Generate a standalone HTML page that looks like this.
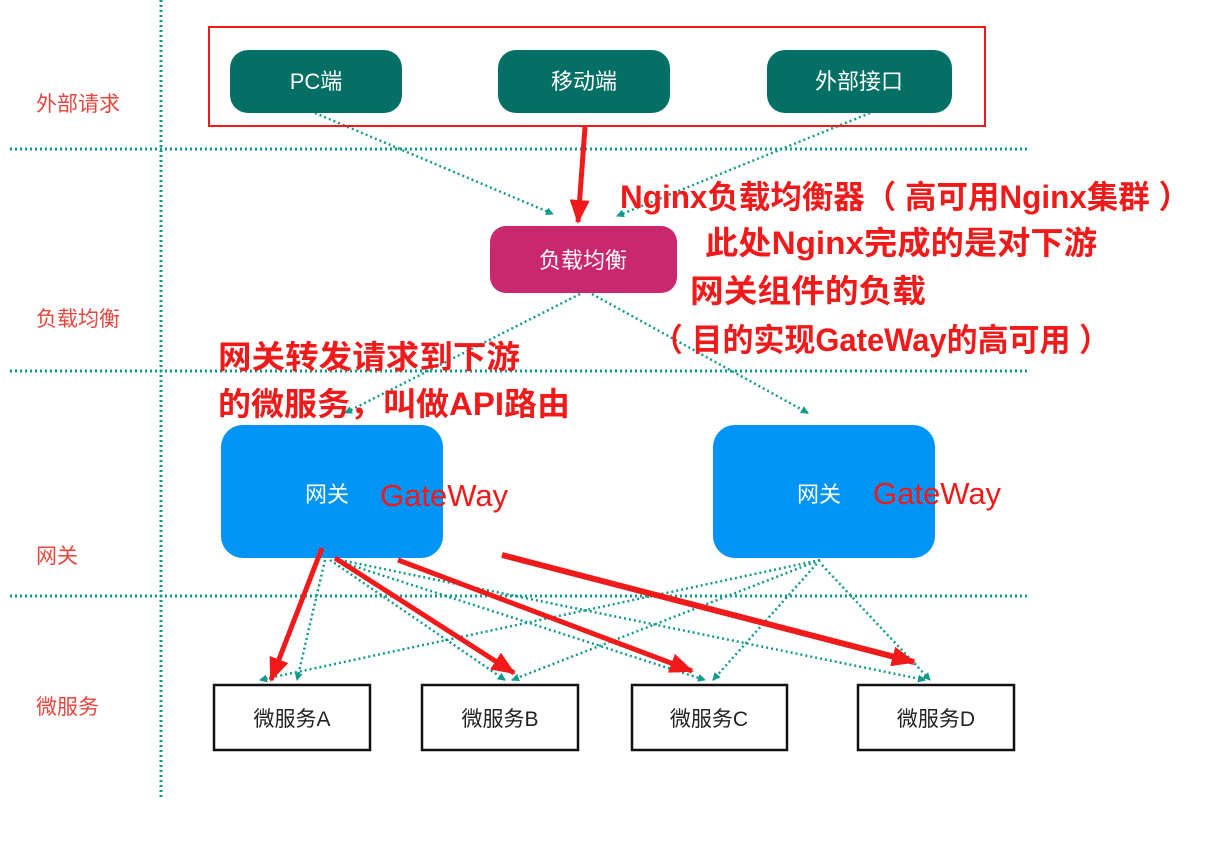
<!DOCTYPE html>
<html><head><meta charset="utf-8"><style>
html,body{margin:0;padding:0;background:#fff;}
svg{display:block;}
text{font-family:"Liberation Sans","Noto Sans CJK SC",sans-serif;}
</style></head><body>
<svg width="1222" height="864" viewBox="0 0 1222 864" xmlns="http://www.w3.org/2000/svg">
<defs>
<marker id="t" markerWidth="8" markerHeight="8" refX="7" refY="4" orient="auto" markerUnits="userSpaceOnUse" viewBox="0 0 8 8"><path d="M0,0 L8,4 L0,8 z" fill="#129a8c"/></marker>
<marker id="r" markerWidth="24" markerHeight="20" refX="22" refY="10" orient="auto" markerUnits="userSpaceOnUse" viewBox="0 0 24 20"><path d="M0,0 L24,10 L0,20 z" fill="#f11a1a"/></marker>
</defs>
<g stroke="#129a8c" stroke-width="3" stroke-dasharray="2 3" fill="none">
<line x1="161" y1="0" x2="161" y2="798"/>
<line x1="10" y1="149" x2="1028" y2="149"/>
<line x1="10" y1="371" x2="1028" y2="371"/>
<line x1="10" y1="596" x2="1028" y2="596"/>
</g>
<g stroke="#129a8c" stroke-width="2.5" stroke-dasharray="2 3" fill="none" marker-end="url(#t)">
<line x1="315" y1="113" x2="553" y2="214"/>
<line x1="870" y1="113" x2="617" y2="216"/>
<line x1="580" y1="294" x2="345" y2="413"/>
<line x1="592" y1="294" x2="808" y2="413"/>
<line x1="325" y1="560" x2="297" y2="680"/>
<line x1="330" y1="560" x2="505" y2="680"/>
<line x1="335" y1="560" x2="705" y2="680"/>
<line x1="340" y1="560" x2="925" y2="680"/>
<line x1="820" y1="560" x2="260" y2="680"/>
<line x1="820" y1="560" x2="512" y2="680"/>
<line x1="820" y1="560" x2="713" y2="680"/>
<line x1="822" y1="565" x2="930" y2="680"/>
</g>
<rect x="209" y="27" width="776" height="99" fill="none" stroke="#f11a1a" stroke-width="2"/>
<rect x="230" y="50" width="172" height="63" rx="18" fill="#046f64"/>
<rect x="498" y="50" width="172" height="63" rx="18" fill="#046f64"/>
<rect x="767" y="50" width="185" height="63" rx="18" fill="#046f64"/>
<g fill="#fff" font-size="22" text-anchor="middle">
<text x="316" y="89">PC端</text>
<text x="584" y="89">移动端</text>
<text x="859" y="89">外部接口</text>
</g>
<rect x="490" y="226" width="187" height="67" rx="16" fill="#c9286e"/>
<text x="583" y="268" fill="#fff" font-size="22" text-anchor="middle">负载均衡</text>
<rect x="221" y="425" width="222" height="133" rx="22" fill="#0094f7"/>
<rect x="713" y="425" width="222" height="133" rx="22" fill="#0094f7"/>
<text x="305" y="502" fill="#fff" font-size="22">网关</text>
<text x="797" y="502" fill="#fff" font-size="22">网关</text>
<text x="380" y="506" fill="#f11a1a" font-size="31">GateWay</text>
<text x="873" y="504" fill="#f11a1a" font-size="31">GateWay</text>
<g fill="#fff" stroke="#111" stroke-width="2.5">
<rect x="214" y="685" width="156" height="65"/>
<rect x="422" y="685" width="156" height="65"/>
<rect x="632" y="685" width="155" height="65"/>
<rect x="858" y="685" width="156" height="65"/>
</g>
<g fill="#222" font-size="21" text-anchor="middle">
<text x="292" y="726">微服务A</text>
<text x="500" y="726">微服务B</text>
<text x="709" y="726">微服务C</text>
<text x="936" y="726">微服务D</text>
</g>
<g stroke="#f11a1a" stroke-width="5" fill="none" marker-end="url(#r)">
<line x1="585" y1="127" x2="578" y2="222"/>
<line x1="322" y1="548" x2="271" y2="680"/>
<line x1="335" y1="558" x2="514" y2="673"/>
<line x1="398" y1="560" x2="692" y2="671"/>
<line x1="502" y1="555" x2="914" y2="662" stroke-width="6"/>
</g>
<g fill="#e8453c" font-size="21">
<text x="36" y="111">外部请求</text>
<text x="36" y="326">负载均衡</text>
<text x="36" y="563">网关</text>
<text x="36" y="714">微服务</text>
</g>
<g fill="#f11a1a" font-size="32" font-weight="bold" lengthAdjust="spacingAndGlyphs">
<text x="620" y="208" textLength="570" lengthAdjust="spacingAndGlyphs">Nginx负载均衡器（ 高可用Nginx集群 ）</text>
<text x="705" y="254" textLength="392" lengthAdjust="spacingAndGlyphs">此处Nginx完成的是对下游</text>
<text x="690" y="302" textLength="236" lengthAdjust="spacingAndGlyphs">网关组件的负载</text>
<text x="652" y="351" textLength="458" lengthAdjust="spacingAndGlyphs">（ 目的实现GateWay的高可用 ）</text>
<text x="218" y="368" textLength="302" lengthAdjust="spacingAndGlyphs">网关转发请求到下游</text>
<text x="218" y="415" textLength="352" lengthAdjust="spacingAndGlyphs">的微服务，叫做API路由</text>
</g>
</svg>
</body></html>
